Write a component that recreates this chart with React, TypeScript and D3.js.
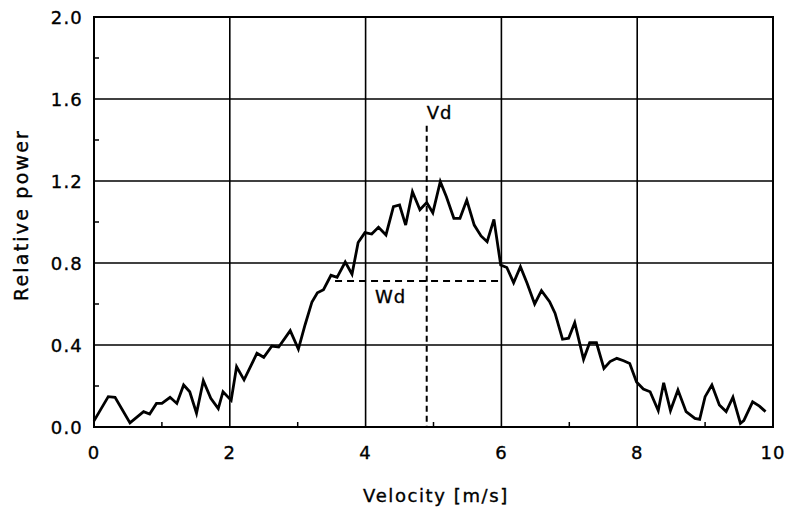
import React from "react";
import * as d3 from "d3";

// velocity [m/s] and relative power
const velocity = [
  0.0, 0.21, 0.31, 0.53, 0.73, 0.82, 0.92, 1.0, 1.12, 1.22, 1.32, 1.41, 1.51, 1.61, 1.72, 1.83, 1.9,
  2.02, 2.1, 2.21, 2.4, 2.5, 2.62, 2.72, 2.89, 3.01, 3.11, 3.21, 3.29, 3.38, 3.49, 3.58, 3.7, 3.8,
  3.89, 3.99, 4.09, 4.19, 4.3, 4.41, 4.5, 4.59, 4.69, 4.8, 4.9, 4.99, 5.1, 5.19, 5.3, 5.39, 5.49,
  5.6, 5.7, 5.79, 5.89, 5.99, 6.08, 6.18, 6.28, 6.38, 6.49, 6.59, 6.71, 6.79, 6.9, 6.99, 7.08, 7.21,
  7.3, 7.4, 7.51, 7.6, 7.7, 7.8, 7.89, 7.99, 8.09, 8.19, 8.31, 8.39, 8.49, 8.6, 8.72, 8.85, 8.92,
  9.0, 9.1, 9.21, 9.31, 9.41, 9.52, 9.57, 9.7, 9.8, 9.89,
];
const power = [
  0.03, 0.148, 0.145, 0.02, 0.075, 0.063, 0.115, 0.115, 0.145, 0.115, 0.205, 0.172, 0.067, 0.226,
  0.14, 0.09, 0.172, 0.13, 0.294, 0.23, 0.36, 0.34, 0.395, 0.39, 0.47, 0.38, 0.5, 0.61, 0.655,
  0.67, 0.74, 0.73, 0.805, 0.745, 0.9, 0.948, 0.941, 0.974, 0.937, 1.075, 1.083, 0.985, 1.148,
  1.06, 1.095, 1.045, 1.197, 1.123, 1.018, 1.018, 1.107, 0.985, 0.932, 0.904, 1.013, 0.79, 0.778,
  0.704, 0.782, 0.7, 0.6, 0.665, 0.611, 0.555, 0.428, 0.433, 0.509, 0.33, 0.411, 0.411, 0.286,
  0.319, 0.335, 0.323, 0.31, 0.22, 0.185, 0.172, 0.08, 0.216, 0.08, 0.18, 0.075, 0.042, 0.037,
  0.148, 0.205, 0.107, 0.075, 0.145, 0.018, 0.031, 0.123, 0.102, 0.075,
];

const xTicks = [0, 2, 4, 6, 8, 10];
const xMinor = [1, 3, 5, 7, 9];
const yTicks = [0, 0.4, 0.8, 1.2, 1.6, 2.0];
const yMinor = [0.2, 0.6, 1.0, 1.4, 1.8];

// markers: mean velocity Vd and width Wd
const vd = { x: 4.9, top: 1.47 };
const wd = { y: 0.712, from: 3.55, to: 6.0 };

const W = 789;
const H = 513;
const font = "'DejaVu Sans', sans-serif";

export default function App() {
  const x = d3.scaleLinear().domain([0, 10]).range([94, 773]);
  const y = d3.scaleLinear().domain([0, 2]).range([427, 17]);

  const pts: [number, number][] = velocity.map((v, i) => [v, power[i]]);
  const line = d3
    .line<[number, number]>()
    .x((d) => x(d[0]))
    .y((d) => y(d[1]));

  const txt = { stroke: "#000", strokeWidth: 0.35 };

  return (
    <svg
      width={W}
      height={H}
      style={{ position: "absolute", left: 0, top: 0, background: "#fff" }}
      fontFamily={font}
    >
      {/* grid */}
      {xTicks.map((t) => (
        <line key={"gx" + t} x1={x(t)} x2={x(t)} y1={y(0)} y2={y(2)} stroke="#000" strokeWidth={1.6} />
      ))}
      {yTicks.map((t) => (
        <line key={"gy" + t} x1={x(0)} x2={x(10)} y1={y(t)} y2={y(t)} stroke="#000" strokeWidth={1.6} />
      ))}
      <rect x={x(0)} y={y(2)} width={x(10) - x(0)} height={y(0) - y(2)} fill="none" stroke="#000" strokeWidth={2} />

      {/* minor ticks */}
      {xMinor.map((t) => (
        <line key={"mx" + t} x1={x(t)} x2={x(t)} y1={y(0)} y2={y(0) - 5} stroke="#000" strokeWidth={1.5} />
      ))}
      {yMinor.map((t) => (
        <line key={"my" + t} x1={x(0)} x2={x(0) + 5} y1={y(t)} y2={y(t)} stroke="#000" strokeWidth={1.5} />
      ))}

      {/* tick labels */}
      {xTicks.map((t) => (
        <text key={"lx" + t} x={x(t)} y={459} textAnchor="middle" fontSize={18} letterSpacing={1} {...txt}>
          {t}
        </text>
      ))}
      {yTicks.map((t) => (
        <text key={"ly" + t} x={83} y={y(t) + 7} textAnchor="end" fontSize={18} letterSpacing={1.2} {...txt}>
          {t.toFixed(1)}
        </text>
      ))}

      {/* axis titles */}
      <text x={436} y={502} textAnchor="middle" fontSize={18} letterSpacing={1.6} {...txt}>
        Velocity  [m/s]
      </text>
      <text
        transform={`translate(28,215) rotate(-90)`}
        textAnchor="middle"
        fontSize={19}
        letterSpacing={2.2}
        {...txt}
      >
        Relative  power
      </text>

      {/* Vd / Wd markers */}
      <line
        x1={x(vd.x)}
        x2={x(vd.x)}
        y1={y(vd.top)}
        y2={y(0)}
        stroke="#000"
        strokeWidth={2}
        strokeDasharray="6,4"
      />
      <text x={x(vd.x)} y={119} fontSize={18} letterSpacing={1} {...txt}>
        Vd
      </text>
      <line
        x1={x(wd.from)}
        x2={x(wd.to)}
        y1={y(wd.y)}
        y2={y(wd.y)}
        stroke="#000"
        strokeWidth={2}
        strokeDasharray="7,5"
      />
      <text x={375} y={303} fontSize={18} letterSpacing={1} {...txt}>
        Wd
      </text>

      {/* trace */}
      <path d={line(pts) ?? ""} fill="none" stroke="#000" strokeWidth={2.8} strokeLinejoin="miter" />
    </svg>
  );
}
